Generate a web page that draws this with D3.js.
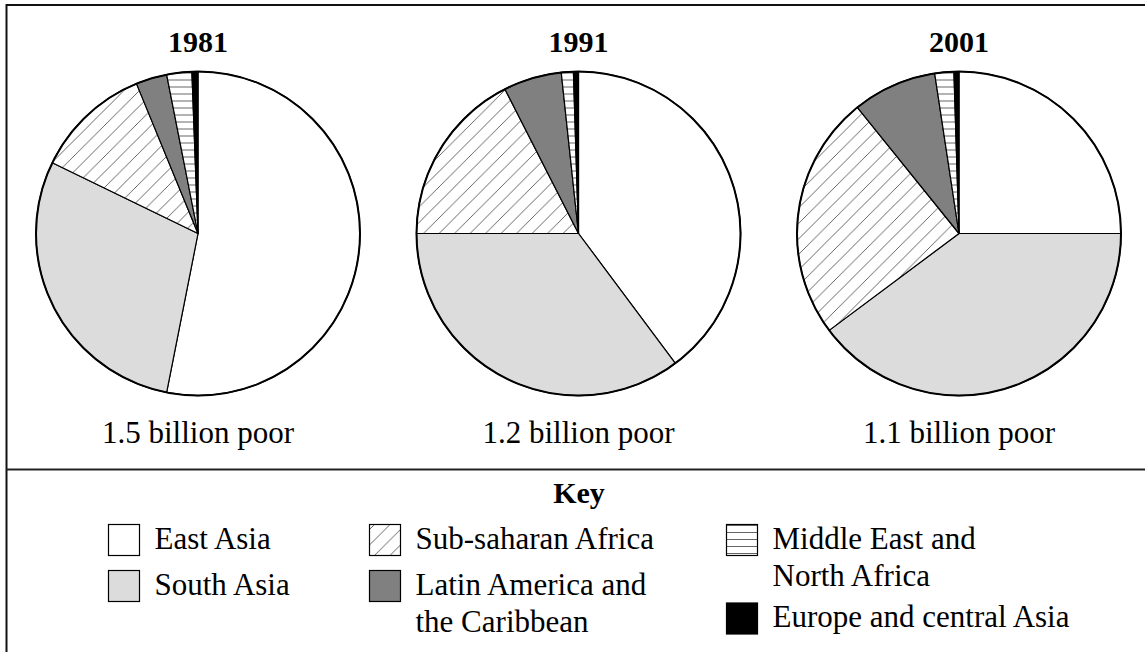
<!DOCTYPE html>
<html>
<head>
<meta charset="utf-8">
<script src="https://cdn.jsdelivr.net/npm/d3@7"></script>
<style>
html,body{margin:0;padding:0;background:#fff;}
svg{display:block;}
</style>
</head>
<body>
<svg id="chart" width="1145" height="652"></svg>
<script>
// ---- data ----
const regions = ["East Asia", "South Asia", "Sub-saharan Africa", "Latin America and the Caribbean", "Middle East and North Africa", "Europe and central Asia"];
const years = ["1981", "1991", "2001"];
const totals = ["1.5 billion poor", "1.2 billion poor", "1.1 billion poor"];
const shares1981 = [53.1, 29.1, 11.6, 3.1, 2.5, 0.6];
const shares1991 = [39.8, 35.2, 17.5, 5.8, 1.2, 0.5];
const shares2001 = [25.0, 39.8, 24.4, 8.4, 1.9, 0.5];
const legendLines = [["East Asia"], ["South Asia"], ["Sub-saharan Africa"], ["Latin America and", "the Caribbean"], ["Middle East and", "North Africa"], ["Europe and central Asia"]];

const allShares = [shares1981, shares1991, shares2001];
const FONT = "'Liberation Serif', 'Times New Roman', Times, 'DejaVu Serif', serif";

const svg = d3.select("#chart");
const defs = svg.append("defs");

// diagonal hatch
const hs = 15.5;
const diag = defs.append("pattern").attr("id", "diag").attr("patternUnits", "userSpaceOnUse")
  .attr("width", hs).attr("height", hs);
diag.append("rect").attr("width", hs).attr("height", hs).attr("fill", "#fff");
diag.append("path").attr("d", `M0,${hs} L${hs},0 M${-hs/2},${hs/2} L${hs/2},${-hs/2} M${hs/2},${hs*1.5} L${hs*1.5},${hs/2}`)
  .attr("stroke", "#555").attr("stroke-width", 0.9);

// horizontal stripes
const ss = 7;
const hor = defs.append("pattern").attr("id", "hor").attr("patternUnits", "userSpaceOnUse")
  .attr("width", 20).attr("height", ss);
hor.append("rect").attr("width", 20).attr("height", ss).attr("fill", "#fff");
hor.append("line").attr("x1", 0).attr("x2", 20).attr("y1", 0.5).attr("y2", 0.5)
  .attr("stroke", "#555").attr("stroke-width", 0.9);

const fills = ["#ffffff", "#dcdcdc", "url(#diag)", "#808080", "url(#hor)", "#000000"];
const color = d3.scaleOrdinal().domain(regions).range(fills);

// frame
svg.append("path").attr("d", "M6.5,652 L6.5,5 L1145,5").attr("fill", "none").attr("stroke", "#111").attr("stroke-width", 2);
svg.append("line").attr("x1", 6.5).attr("x2", 1145).attr("y1", 469.5).attr("y2", 469.5).attr("stroke", "#222").attr("stroke-width", 2);

// pies
const xPos = d3.scalePoint().domain(years).range([198, 959]);
const r = 162;
const cy = 233.5;
const pie = d3.pie().sort(null).value(d => d.v);
const arc = d3.arc().innerRadius(0).outerRadius(r);

years.forEach((yr, i) => {
  const g = svg.append("g").attr("transform", `translate(${xPos(yr)},${cy})`);
  const data = regions.map((name, k) => ({name, v: allShares[i][k]}));
  g.selectAll("path.slice").data(pie(data)).join("path")
    .attr("class", "slice")
    .attr("d", arc)
    .attr("fill", d => color(d.data.name))
    .attr("stroke", "#000").attr("stroke-width", 1.2).attr("stroke-linejoin", "round");
  g.append("circle").attr("r", r).attr("fill", "none").attr("stroke", "#000").attr("stroke-width", 2);

  svg.append("text").attr("x", xPos(yr)).attr("y", 51.5).attr("text-anchor", "middle")
    .attr("font-family", FONT).attr("font-size", 30).attr("font-weight", "bold").text(yr);
  svg.append("text").attr("x", xPos(yr)).attr("y", 443).attr("text-anchor", "middle")
    .attr("font-family", FONT).attr("font-size", 31).text(totals[i]);
});

// legend
svg.append("text").attr("x", 579).attr("y", 503).attr("text-anchor", "middle")
  .attr("font-family", FONT).attr("font-size", 30).attr("font-weight", "bold").text("Key");

const legX = [108.5, 108.5, 369.5, 369.5, 726.5, 726.5];
const legY = [524.5, 570.5, 524.5, 570.5, 524.5, 603];
const sw = 31;
const leg = svg.append("g");
regions.forEach((name, k) => {
  leg.append("rect").attr("x", legX[k]).attr("y", legY[k]).attr("width", sw).attr("height", sw)
    .attr("fill", color(name)).attr("stroke", "#000").attr("stroke-width", 1.2);
  const t = leg.append("text").attr("x", legX[k] + 46).attr("y", legY[k] + 24)
    .attr("font-family", FONT).attr("font-size", 31);
  legendLines[k].forEach((ln, j) => {
    t.append("tspan").attr("x", legX[k] + 46).attr("dy", j === 0 ? 0 : 37).text(ln);
  });
});
</script>
</body>
</html>
